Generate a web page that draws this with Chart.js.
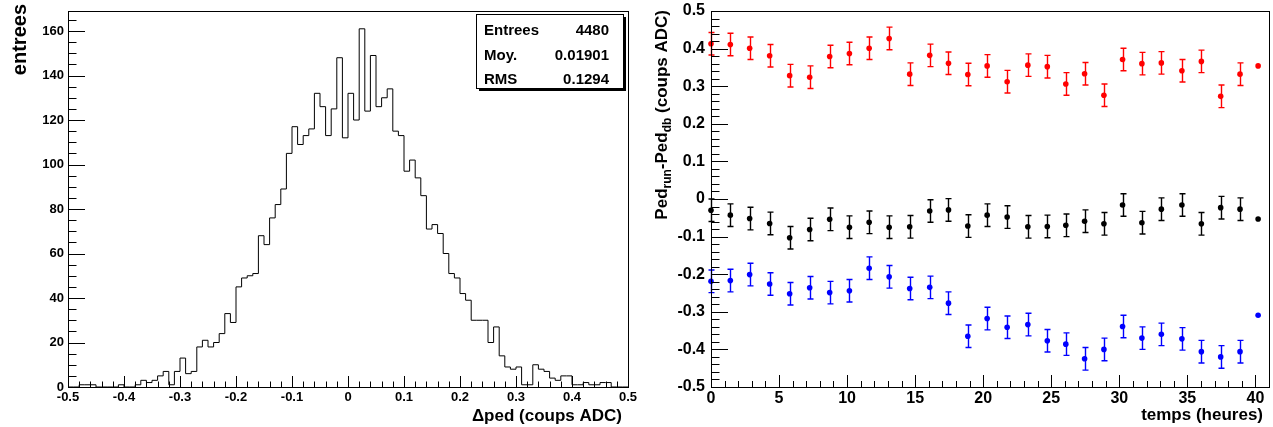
<!DOCTYPE html>
<html>
<head>
<meta charset="utf-8">
<script src="https://cdn.jsdelivr.net/npm/chart.js@4/dist/chart.umd.min.js"></script>
<style>
  html, body { margin: 0; padding: 0; background: #fff; }
  #wrap { position: relative; width: 1273px; height: 427px; overflow: hidden; }
  canvas { position: absolute; left: 0; top: 0; }
</style>
</head>
<body>
<div id="wrap">
  <canvas id="hist" width="1273" height="427"></canvas>
  <canvas id="drift" width="1273" height="427"></canvas>
</div>
<script>
// ---- Pedestal difference histogram: 100 bins over [-0.5, 0.5] ----
const binLow = -0.5;
const binWidth = 0.01;
const binCounts = [
  0, 0, 0, 1, 1, 1, 0, 0, 0, 0,
  1, 0, 0, 1, 3, 2, 3, 5, 7, 1,
  7, 13, 6, 7, 18, 21, 18, 20, 24, 33,
  29, 45, 49, 50, 51, 68, 64, 76, 82, 89,
  105, 117, 109, 113, 116, 132, 126, 113, 125, 148,
  112, 132, 120, 161, 124, 149, 126, 130, 134, 115,
  113, 97, 102, 94, 86, 71, 73, 69, 60, 51,
  49, 42, 39, 30, 30, 30, 20, 27, 14, 9,
  8, 9, 1, 1, 10, 8, 7, 4, 3, 5,
  5, 1, 1, 2, 1, 1, 2, 2, 0, 0
];
const statLabels = ['Entrees', 'Moy.', 'RMS'];
const statValues = ['4480', '0.01901', '0.1294'];

// ---- Pedestal drift versus time, three channels ----
const hours = [0, 1.42, 2.84, 4.31, 5.78, 7.25, 8.72, 10.17, 11.62, 13.09,
  14.6, 16.07, 17.45, 18.87, 20.29, 21.76, 23.28, 24.71, 26.07, 27.45,
  28.87, 30.24, 31.66, 33.09, 34.6, 36.03, 37.45, 38.87, 40.2];
const pedRed = [0.413, 0.411, 0.401, 0.381, 0.328, 0.324, 0.379, 0.387, 0.401, 0.427,
  0.332, 0.382, 0.361, 0.331, 0.354, 0.312, 0.356, 0.352, 0.306, 0.333,
  0.276, 0.371, 0.360, 0.362, 0.341, 0.366, 0.273, 0.332, 0.354];
const pedBlack = [-0.030, -0.043, -0.052, -0.065, -0.103, -0.081, -0.054, -0.075, -0.062, -0.075,
  -0.074, -0.032, -0.029, -0.072, -0.043, -0.048, -0.074, -0.073, -0.070, -0.059,
  -0.066, -0.016, -0.063, -0.027, -0.016, -0.066, -0.023, -0.027, -0.053];
const pedBlue = [-0.219, -0.217, -0.201, -0.226, -0.252, -0.236, -0.249, -0.244, -0.184, -0.207,
  -0.238, -0.235, -0.277, -0.365, -0.318, -0.341, -0.334, -0.377, -0.386, -0.425,
  -0.400, -0.339, -0.370, -0.360, -0.372, -0.406, -0.420, -0.406, -0.309];
const pedErr = [0.03, 0.03, 0.03, 0.03, 0.03, 0.03, 0.03, 0.03, 0.03, 0.03,
  0.03, 0.03, 0.03, 0.03, 0.03, 0.03, 0.03, 0.03, 0.03, 0.03,
  0.03, 0.03, 0.03, 0.03, 0.03, 0.03, 0.03, 0.03, 0];
const hourTicks = [0, 5, 10, 15, 20, 25, 30, 35, 40];

const FONT = '"Liberation Sans", Arial, Helvetica, sans-serif';

function fmt1(v) {
  return Math.abs(v) < 1e-9 ? '0' : v.toFixed(1);
}

// Frame and inward-pointing major/minor ticks, placed with the chart's scales
function frameAndTicks(spec) {
  return {
    id: 'frameTicks',
    afterDatasetsDraw(chart) {
      const { ctx, chartArea: a, scales } = chart;
      const xs = scales.x, ys = scales.y;
      ctx.save();
      ctx.strokeStyle = '#000';
      ctx.lineWidth = 1;
      ctx.beginPath();
      const nx = Math.round((spec.xMax - spec.xMin) / spec.xMinor);
      for (let i = 0; i <= nx; i++) {
        const v = spec.xMin + i * spec.xMinor;
        const major = Math.abs(v / spec.xMajor - Math.round(v / spec.xMajor)) < 1e-6;
        const px = Math.round(xs.getPixelForValue(v)) + 0.5;
        const len = major ? spec.xMajorLen : spec.xMinorLen;
        ctx.moveTo(px, a.bottom);
        ctx.lineTo(px, a.bottom - len);
      }
      const ny = Math.round((spec.yMax - spec.yMin) / spec.yMinor);
      for (let i = 0; i <= ny; i++) {
        const v = spec.yMin + i * spec.yMinor;
        const major = Math.abs(v / spec.yMajor - Math.round(v / spec.yMajor)) < 1e-6;
        const py = Math.round(ys.getPixelForValue(v)) + 0.5;
        const len = major ? spec.yMajorLen : spec.yMinorLen;
        ctx.moveTo(a.left, py);
        ctx.lineTo(a.left + len, py);
      }
      ctx.stroke();
      ctx.lineWidth = 1;
      ctx.strokeRect(Math.round(a.left) + 0.5, Math.round(a.top) + 0.5,
        Math.round(a.right - a.left), Math.round(a.bottom - a.top));
      ctx.restore();
    }
  };
}

// ---- Histogram chart ----
const histPoints = binCounts.map((c, i) => ({ x: binLow + i * binWidth, y: c }));
histPoints.push({ x: binLow + binCounts.length * binWidth, y: binCounts[binCounts.length - 1] });

const histDecor = {
  id: 'histDecor',
  afterDraw(chart) {
    const ctx = chart.ctx;
    ctx.save();
    // stats box with shadow
    const bx = 476, by = 14, bw = 147, bh = 74;
    ctx.fillStyle = '#000';
    ctx.fillRect(bx + 3, by + 3, bw, bh);
    ctx.fillStyle = '#fff';
    ctx.fillRect(bx, by, bw, bh);
    ctx.strokeStyle = '#000';
    ctx.lineWidth = 1;
    ctx.strokeRect(bx + 0.5, by + 0.5, bw, bh);
    ctx.fillStyle = '#000';
    ctx.font = 'bold 15px ' + FONT;
    ctx.textBaseline = 'middle';
    const rowY = [31, 56, 80];
    statLabels.forEach((t, i) => {
      ctx.textAlign = 'left';
      ctx.fillText(t, 484, rowY[i]);
      ctx.textAlign = 'right';
      ctx.fillText(statValues[i], 609, rowY[i]);
    });
    // axis titles
    ctx.font = 'bold 17px ' + FONT;
    ctx.textAlign = 'right';
    ctx.textBaseline = 'alphabetic';
    ctx.fillText('\u0394ped (coups ADC)', 622, 421);
    ctx.save();
    ctx.translate(26, 4);
    ctx.rotate(-Math.PI / 2);
    ctx.font = 'bold 20px ' + FONT;
    ctx.textAlign = 'right';
    ctx.fillText('entrees', 0, 0);
    ctx.restore();
    ctx.restore();
  }
};

new Chart(document.getElementById('hist'), {
  type: 'line',
  data: {
    datasets: [{
      data: histPoints,
      stepped: 'after',
      borderColor: '#000',
      borderWidth: 1,
      pointRadius: 0,
      fill: false
    }]
  },
  options: {
    responsive: false,
    animation: false,
    events: [],
    layout: { padding: { left: 0, top: 11, right: 645, bottom: 0 } },
    plugins: { legend: { display: false }, tooltip: { enabled: false } },
    scales: {
      x: {
        type: 'linear', min: -0.5, max: 0.5,
        grid: { display: false, drawTicks: false },
        border: { display: false },
        ticks: {
          stepSize: 0.1, padding: 3, color: '#000', maxRotation: 0,
          font: { family: FONT, size: 13, weight: 'bold' },
          callback: v => fmt1(v)
        },
        afterFit(s) { s.height = 40; s.paddingLeft = 0; s.paddingRight = 0; }
      },
      y: {
        type: 'linear', min: 0, max: 169,
        grid: { display: false, drawTicks: false },
        border: { display: false },
        ticks: {
          stepSize: 20, padding: 4, color: '#000',
          font: { family: FONT, size: 13, weight: 'bold' }
        },
        afterBuildTicks(s) { s.ticks = s.ticks.filter(t => t.value % 20 === 0); },
        afterFit(s) { s.width = 68; s.paddingTop = 0; s.paddingBottom = 0; }
      }
    }
  },
  plugins: [frameAndTicks({
    xMin: -0.5, xMax: 0.5, xMajor: 0.1, xMinor: 0.02, xMajorLen: 11, xMinorLen: 5.5,
    yMin: 0, yMax: 165, yMajor: 20, yMinor: 5, yMajorLen: 17, yMinorLen: 8.5
  }), histDecor]
});

// ---- Drift chart ----
function series(vals) {
  return hours.map((h, i) => ({ x: h, y: vals[i] }));
}

const errorBars = {
  id: 'errorBars',
  beforeDatasetsDraw(chart) {
    const { ctx, scales: { x, y } } = chart;
    ctx.save();
    ctx.lineWidth = 1.4;
    chart.data.datasets.forEach(ds => {
      ctx.strokeStyle = ds.pointBackgroundColor;
      ctx.beginPath();
      ds.data.forEach((p, i) => {
        const e = ds.errors[i];
        if (!e) return;
        const px = Math.round(x.getPixelForValue(p.x)) + 0.5;
        const top = y.getPixelForValue(p.y + e);
        const bot = y.getPixelForValue(p.y - e);
        ctx.moveTo(px, top); ctx.lineTo(px, bot);
        ctx.moveTo(px - 3, top); ctx.lineTo(px + 3, top);
        ctx.moveTo(px - 3, bot); ctx.lineTo(px + 3, bot);
      });
      ctx.stroke();
    });
    ctx.restore();
  }
};

const driftDecor = {
  id: 'driftDecor',
  afterDraw(chart) {
    const ctx = chart.ctx;
    ctx.save();
    ctx.fillStyle = '#000';
    ctx.font = 'bold 17px ' + FONT;
    ctx.textAlign = 'right';
    ctx.textBaseline = 'alphabetic';
    ctx.fillText('temps (heures)', 1263, 420);
    // rotated y title with subscripts
    ctx.save();
    ctx.translate(667, 10);
    ctx.rotate(-Math.PI / 2);
    const segs = [
      ['Ped', 17, 0], ['run', 12, 4], ['-Ped', 17, 0], ['db', 12, 4], [' (coups ADC)', 17, 0]
    ];
    let total = 0;
    segs.forEach(s => { ctx.font = 'bold ' + s[1] + 'px ' + FONT; total += ctx.measureText(s[0]).width; });
    let cx = -total;
    ctx.textAlign = 'left';
    segs.forEach(s => {
      ctx.font = 'bold ' + s[1] + 'px ' + FONT;
      ctx.fillText(s[0], cx, s[2]);
      cx += ctx.measureText(s[0]).width;
    });
    ctx.restore();
    ctx.restore();
  }
};

function pedSet(vals, color) {
  return {
    data: series(vals),
    errors: pedErr,
    pointRadius: 2.8,
    pointBorderWidth: 0,
    pointBackgroundColor: color,
    pointBorderColor: color,
    showLine: false,
    clip: false
  };
}

new Chart(document.getElementById('drift'), {
  type: 'scatter',
  data: {
    datasets: [pedSet(pedRed, '#ff0000'), pedSet(pedBlack, '#000000'), pedSet(pedBlue, '#0000ff')]
  },
  options: {
    responsive: false,
    animation: false,
    events: [],
    layout: { padding: { left: 636, top: 11, right: 4, bottom: 0 } },
    plugins: { legend: { display: false }, tooltip: { enabled: false } },
    scales: {
      x: {
        type: 'linear', min: 0, max: 41,
        grid: { display: false, drawTicks: false },
        border: { display: false },
        ticks: {
          stepSize: 5, padding: 2, color: '#000', maxRotation: 0, autoSkip: false,
          font: { family: FONT, size: 16, weight: 'bold' }
        },
        afterBuildTicks(s) { s.ticks = hourTicks.map(v => ({ value: v })); },
        afterFit(s) { s.height = 40; s.paddingLeft = 0; s.paddingRight = 0; }
      },
      y: {
        type: 'linear', min: -0.5, max: 0.5,
        grid: { display: false, drawTicks: false },
        border: { display: false },
        ticks: {
          stepSize: 0.1, padding: 6, color: '#000',
          font: { family: FONT, size: 16, weight: 'bold' },
          callback: v => fmt1(v)
        },
        afterFit(s) { s.width = 75; s.paddingTop = 0; s.paddingBottom = 0; }
      }
    }
  },
  plugins: [frameAndTicks({
    xMin: 0, xMax: 41, xMajor: 5, xMinor: 1, xMajorLen: 12, xMinorLen: 6,
    yMin: -0.5, yMax: 0.5, yMajor: 0.1, yMinor: 0.02, yMajorLen: 17, yMinorLen: 8.5
  }), errorBars, driftDecor]
});
</script>
</body>
</html>
